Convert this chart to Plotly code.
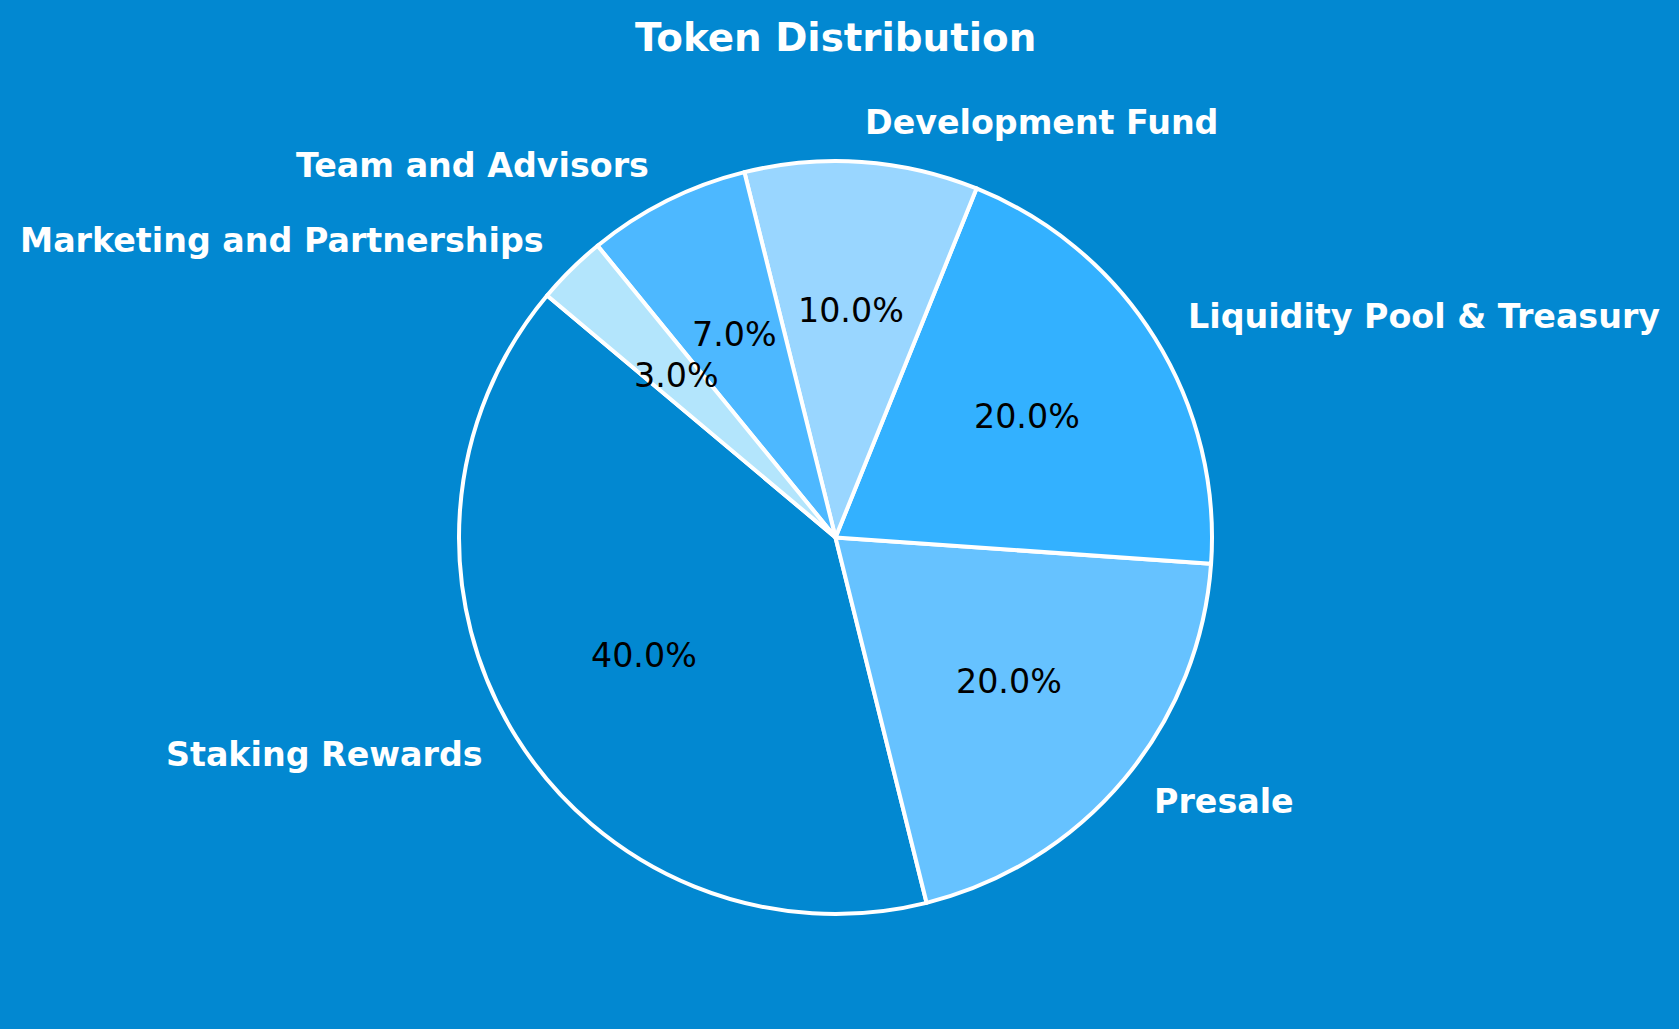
import math
import plotly.graph_objects as go

labels = ["Staking Rewards", "Presale", "Liquidity Pool & Treasury",
          "Development Fund", "Team and Advisors", "Marketing and Partnerships"]
values = [40, 20, 20, 10, 7, 3]
colors = ["#0288D1", "#66C2FF", "#33B1FF", "#99D6FF", "#4DB8FF", "#B3E5FC"]
title_text = "Token Distribution"

BG = "#0288D1"
START_ANGLE = 140.0  # degrees, counterclockwise from 3 o'clock (matplotlib convention)
LABEL_DIST = 1.1
PCT_DIST = 0.6
FONT = "DejaVu Sans"

W, H = 1679, 1029
L, R, T, B = 459, 467, 161, 115

total = float(sum(values))
# plotly (counterclockwise): first slice's ccw end edge sits at `rotation`
# (measured clockwise from 12 o'clock)
first_end = START_ANGLE + 360.0 * values[0] / total
rot = (90.0 - first_end) % 360.0

fig = go.Figure()
fig.add_trace(go.Pie(
    labels=labels,
    values=values,
    sort=False,
    direction="counterclockwise",
    rotation=rot,
    marker=dict(colors=colors, line=dict(color="white", width=4)),
    textinfo="none",
    hoverinfo="skip",
    showlegend=False,
    domain=dict(x=[0, 1], y=[0, 1]),
))

annotations = []
angle = START_ANGLE
for lab, v in zip(labels, values):
    span = 360.0 * v / total
    mid = math.radians(angle + span / 2.0)
    angle += span
    cx, cy = math.cos(mid), math.sin(mid)
    annotations.append(dict(
        x=0.5 + 0.5 * LABEL_DIST * cx, y=0.5 + 0.5 * LABEL_DIST * cy,
        xref="paper", yref="paper", showarrow=False,
        text="<b>%s</b>" % lab,
        xanchor="left" if cx > 0 else "right", yanchor="middle",
        yshift=2,
        font=dict(family=FONT, size=33.3, color="white"),
        borderpad=0,
    ))
    annotations.append(dict(
        x=0.5 + 0.5 * PCT_DIST * cx, y=0.5 + 0.5 * PCT_DIST * cy,
        xref="paper", yref="paper", showarrow=False,
        text="%.1f%%" % (100.0 * v / total),
        xanchor="center", yanchor="middle",
        yshift=1.5,
        font=dict(family=FONT, size=33.3, color="black"),
        borderpad=0,
    ))

fig.update_layout(
    width=W, height=H,
    paper_bgcolor=BG, plot_bgcolor=BG,
    margin=dict(l=L, r=R, t=T, b=B, pad=0),
    title=dict(text="<b>%s</b>" % title_text, x=0.4977, xanchor="center",
               y=1 - 37.0 / H, yanchor="middle", yref="container",
               font=dict(family=FONT, size=38.8, color="white")),
    annotations=annotations,
)

fig.write_html("out.html", config={"displayModeBar": False})
